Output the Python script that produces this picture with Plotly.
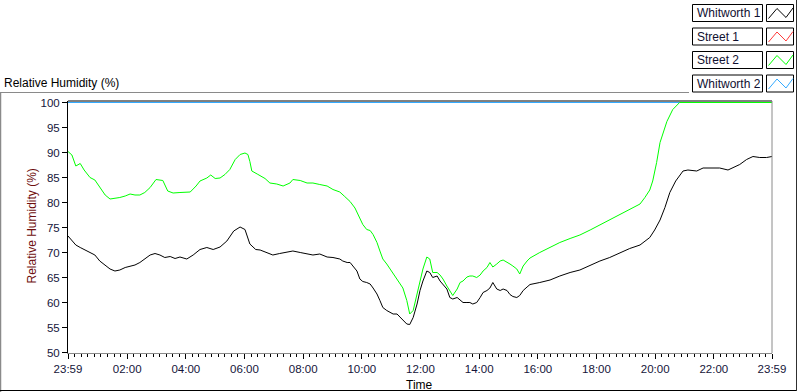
import plotly.graph_objects as go

# ---------------- data (minutes after 23:59 start, relative humidity %) ----------------
series_names = ["Whitworth 1", "Street 1", "Street 2", "Whitworth 2"]
series_colors = ["#000000", "#ff3a3a", "#00ff00", "#33aaff"]

whitworth1_t = [0, 8, 16, 25, 35, 45, 55, 65, 76, 86, 96, 106, 117, 127, 137, 147, 157, 168, 178, 188,
                198, 209, 219, 229, 243, 256, 270, 284, 297, 311, 325, 339, 352, 362, 372, 384, 393, 407,
                419, 433, 448, 460, 475, 489, 501, 515, 530, 542, 556, 562, 571, 577, 583, 591, 597, 603,
                611, 618, 624, 632, 638, 644, 652, 659, 665, 673, 679, 685, 693, 699, 706, 714, 720, 726,
                734, 740, 746, 755, 761, 767, 775, 781, 787, 796, 802, 808, 816, 822, 828, 836, 843, 849,
                857, 863, 869, 877, 884, 890, 898, 904, 910, 918, 924, 931, 939, 945, 965, 986, 1006, 1027,
                1047, 1068, 1088, 1108, 1129, 1149, 1170, 1190, 1200, 1211, 1221, 1231, 1243, 1258, 1268,
                1286, 1299, 1313, 1333, 1350, 1360, 1374, 1388, 1401, 1415, 1429, 1440]
whitworth1_rh = [73.3, 72.5, 71.5, 71.0, 70.5, 70.0, 69.5, 68.3, 67.5, 66.7, 66.3, 66.5, 67.0, 67.3, 67.5,
                 68.0, 68.8, 69.5, 69.8, 69.5, 69.0, 69.2, 68.8, 69.1, 68.7, 69.5, 70.6, 71.0, 70.6, 71.1,
                 72.3, 74.3, 75.1, 74.6, 71.7, 70.6, 70.5, 70.0, 69.5, 69.8, 70.0, 70.3, 70.0, 69.7, 69.5,
                 69.7, 69.1, 69.0, 68.7, 68.3, 68.0, 68.0, 67.3, 66.3, 64.7, 64.2, 64.0, 63.7, 62.9, 61.7,
                 60.4, 59.0, 58.4, 58.0, 57.7, 57.7, 57.0, 56.5, 55.7, 55.6, 57.0, 59.7, 62.4, 64.3, 66.3,
                 66.0, 65.0, 65.3, 64.3, 63.7, 62.7, 61.0, 60.7, 61.0, 60.4, 60.0, 60.0, 60.0, 59.7, 60.0,
                 61.0, 62.0, 62.4, 62.9, 64.0, 62.7, 62.4, 62.7, 62.4, 61.6, 61.2, 61.0, 61.4, 62.4, 63.1,
                 63.6, 64.0, 64.5, 65.3, 66.0, 66.5, 67.5, 68.3, 69.0, 70.0, 70.8, 71.5, 73.0, 74.5, 76.5,
                 79.0, 82.0, 84.3, 86.3, 86.5, 86.3, 86.9, 86.9, 86.9, 86.5, 86.9, 87.6, 88.6, 89.2, 89.0,
                 89.0, 89.2]

street1_t = [0, 1440]
street1_rh = [100, 100]

street2_t = [0, 8, 16, 25, 33, 41, 45, 55, 65, 76, 86, 96, 106, 117, 127, 137, 147, 157, 168, 180, 188,
             194, 204, 215, 229, 250, 262, 270, 284, 292, 301, 311, 321, 331, 342, 352, 362, 368, 372, 376,
             387, 393, 403, 413, 427, 440, 454, 460, 475, 489, 501, 515, 530, 542, 556, 566, 577, 587, 597,
             603, 611, 618, 624, 632, 638, 644, 652, 659, 665, 673, 679, 685, 693, 699, 706, 714, 720, 726,
             734, 740, 746, 755, 761, 767, 775, 781, 787, 796, 802, 808, 816, 822, 828, 836, 843, 849, 857,
             863, 869, 877, 884, 890, 898, 904, 910, 918, 924, 931, 939, 945, 965, 986, 1006, 1027, 1047,
             1068, 1088, 1108, 1129, 1149, 1170, 1180, 1190, 1196, 1204, 1211, 1217, 1225, 1237, 1247,
             1251, 1440]
street2_rh = [90.2, 89.5, 87.3, 87.8, 86.5, 85.5, 85.0, 84.5, 83.0, 81.5, 80.7, 80.8, 81.0, 81.3, 81.7,
              81.5, 81.5, 82.0, 83.0, 84.6, 84.5, 84.4, 82.3, 81.9, 82.0, 82.1, 83.3, 84.3, 84.9, 85.5,
              84.8, 84.9, 85.6, 86.6, 88.6, 89.6, 89.9, 89.6, 88.2, 86.3, 85.7, 85.3, 84.8, 83.9, 83.7,
              83.3, 83.9, 84.6, 84.4, 83.9, 83.9, 83.6, 83.3, 82.6, 82.1, 81.2, 80.2, 78.9, 76.9, 75.6,
              74.6, 74.4, 73.6, 72.0, 70.3, 68.7, 67.7, 66.7, 65.7, 64.7, 63.7, 62.9, 60.4, 57.7, 58.4,
              61.7, 64.3, 66.7, 69.1, 68.7, 66.0, 66.0, 65.5, 64.7, 63.3, 62.4, 61.4, 62.7, 64.0, 64.3,
              65.1, 65.3, 65.3, 65.0, 65.5, 66.3, 67.0, 68.0, 67.1, 67.7, 68.3, 68.5, 68.1, 67.7, 67.3,
              66.7, 65.7, 67.3, 68.3, 68.9, 70.0, 71.0, 72.0, 72.8, 73.5, 74.5, 75.5, 76.5, 77.5, 78.5,
              79.7, 81.0, 82.5, 84.3, 88.0, 92.0, 93.9, 96.2, 98.6, 99.7, 100.0, 100.0]

whitworth2_t = [0, 1440]
whitworth2_rh = [100, 100]

x_tick_vals = [0, 121, 241, 361, 481, 601, 721, 841, 961, 1081, 1201, 1321, 1440]
x_tick_text = ["23:59", "02:00", "04:00", "06:00", "08:00", "10:00", "12:00", "14:00",
               "16:00", "18:00", "20:00", "22:00", "23:59"]
y_tick_vals = [50, 55, 60, 65, 70, 75, 80, 85, 90, 95, 100]

# ---------------- geometry helpers ----------------
W, H = 800, 392
L, R, T, B = 68, 772, 101, 353


def px(x):
    return (x - L) / (R - L)


def py(y):
    return (B - y) / (B - T)


FONT = "Liberation Sans"
TICKCOL = "#15153a"

fig = go.Figure()
data_map = {
    "Whitworth 1": (whitworth1_t, whitworth1_rh),
    "Street 1": (street1_t, street1_rh),
    "Street 2": (street2_t, street2_rh),
    "Whitworth 2": (whitworth2_t, whitworth2_rh),
}
draw_order = ["Street 1", "Whitworth 2", "Street 2", "Whitworth 1"]
for name in draw_order:
    t, v = data_map[name]
    col = series_colors[series_names.index(name)]
    fig.add_trace(go.Scatter(x=t, y=v, mode="lines", name=name,
                             line=dict(color=col, width=1), showlegend=False))

# minor ticks: 8 evenly spaced between consecutive major ticks
minor_vals = []
for a, b in zip(x_tick_vals[:-1], x_tick_vals[1:]):
    for k in range(1, 9):
        minor_vals.append(a + (b - a) * k / 9)

shapes = []
# plot frame: top black, right gray
shapes.append(dict(type="line", xref="paper", yref="paper", x0=0, x1=1, y0=1, y1=1,
                   line=dict(color="black", width=1)))
shapes.append(dict(type="line", xref="paper", yref="paper", x0=1, x1=1, y0=0, y1=1,
                   line=dict(color="#8a8a8a", width=1)))
# outer panel borders
shapes.append(dict(type="line", xref="paper", yref="paper", x0=px(0), x1=px(689), y0=py(92.5), y1=py(92.5),
                   line=dict(color="#8a8a8a", width=1)))
shapes.append(dict(type="line", xref="paper", yref="paper", x0=px(0.5), x1=px(0.5), y0=py(92.5), y1=py(392),
                   line=dict(color="#8a8a8a", width=1.5)))
shapes.append(dict(type="line", xref="paper", yref="paper", x0=px(0), x1=px(796), y0=py(390.5), y1=py(390.5),
                   line=dict(color="black", width=1)))
shapes.append(dict(type="line", xref="paper", yref="paper", x0=px(796.5), x1=px(796.5), y0=py(0), y1=py(391),
                   line=dict(color="#303030", width=1)))

annotations = []
# custom legend
for i, (name, col) in enumerate(zip(series_names, series_colors)):
    top = 4.5 + i * 23.5
    bot = top + 17
    shapes.append(dict(type="rect", xref="paper", yref="paper", x0=px(692.5), x1=px(762.5),
                       y0=py(bot), y1=py(top), line=dict(color="black", width=1), fillcolor="white"))
    shapes.append(dict(type="rect", xref="paper", yref="paper", x0=px(766.5), x1=px(793.5),
                       y0=py(bot), y1=py(top), line=dict(color="black", width=1), fillcolor="white"))
    pts = [(768.5, bot - 3), (777, top + 4), (786, bot - 4), (793, top + 3.5)]
    path = "M " + " L ".join(f"{px(a):.5f},{py(b):.5f}" for a, b in pts)
    shapes.append(dict(type="path", xref="paper", yref="paper", path=path,
                       line=dict(color=col, width=1)))
    annotations.append(dict(text=name, xref="paper", yref="paper", x=px(694.5), y=py((top + bot) / 2),
                            xanchor="left", yanchor="middle", showarrow=False,
                            font=dict(family=FONT, size=12, color="#101030")))

annotations.append(dict(text="Relative Humidity (%)", xref="paper", yref="paper", x=px(1.5), y=py(83),
                        xanchor="left", yanchor="middle", showarrow=False,
                        font=dict(family=FONT, size=12, color="black")))
annotations.append(dict(text="Relative Humidity (%)", xref="paper", yref="paper", x=px(31.5), y=py(226),
                        xanchor="center", yanchor="middle", textangle=-90, showarrow=False,
                        font=dict(family=FONT, size=12, color="#6e0e0e")))
annotations.append(dict(text="Time", xref="paper", yref="paper", x=px(419.5), y=py(384.5),
                        xanchor="center", yanchor="middle", showarrow=False,
                        font=dict(family=FONT, size=12, color="black")))

fig.update_layout(
    width=W, height=H,
    margin=dict(l=L, r=W - R, t=T, b=H - B, pad=0),
    paper_bgcolor="white", plot_bgcolor="white",
    showlegend=False,
    shapes=shapes, annotations=annotations,
    xaxis=dict(range=[0, 1440], tickmode="array", tickvals=x_tick_vals, ticktext=x_tick_text,
               ticks="outside", ticklen=5, tickcolor="black", tickwidth=1,
               showline=True, linecolor="#8a8a8a", linewidth=1,
               showgrid=False, zeroline=False, fixedrange=True,
               tickfont=dict(family=FONT, size=11.5, color=TICKCOL),
               minor=dict(tickmode="array", tickvals=minor_vals, ticks="outside", ticklen=3,
                          tickcolor="black", tickwidth=1, showgrid=False)),
    yaxis=dict(range=[49.9, 100.3], tickmode="array", tickvals=y_tick_vals,
               ticks="outside", ticklen=5, tickcolor="black", tickwidth=1,
               showline=True, linecolor="black", linewidth=1,
               showgrid=False, zeroline=False, fixedrange=True,
               tickfont=dict(family=FONT, size=11.5, color=TICKCOL)),
)

fig.write_html("out.html", config={"displayModeBar": False},
               post_script="document.body.style.margin='0';document.body.style.padding='0';")
